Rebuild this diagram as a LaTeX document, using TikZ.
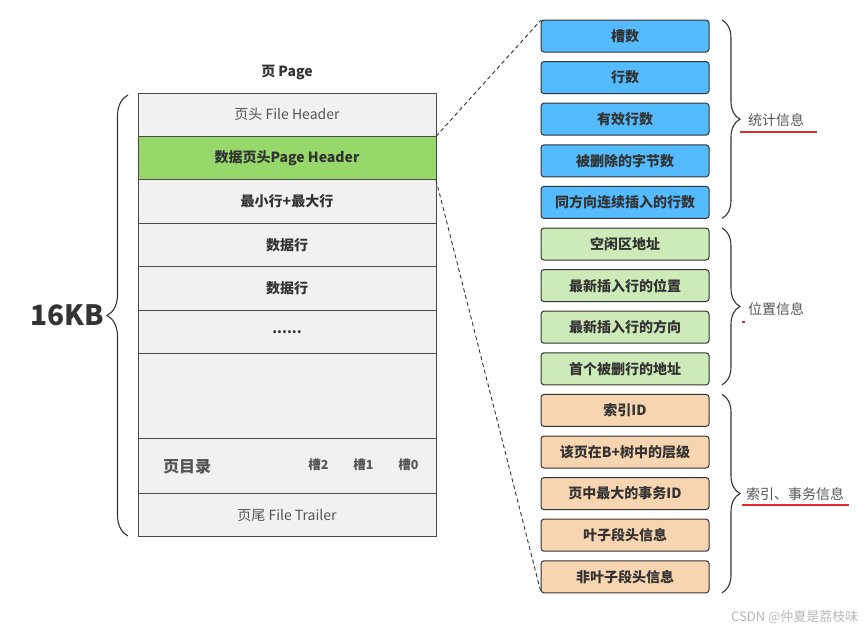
\documentclass[tikz,border=0pt]{standalone}
\usepackage{fontspec}
\setmainfont{Noto Sans CJK SC}
\usepackage{xcolor}
\usetikzlibrary{positioning,decorations.pathreplacing}
\definecolor{RowGray}{HTML}{F1F1F1}
\definecolor{EdgeGray}{HTML}{4A4A4A}
\definecolor{HeadGreen}{HTML}{97D86A}
\definecolor{SkyBlue}{HTML}{55BBFF}
\definecolor{PaleGreen}{HTML}{CDEBB9}
\definecolor{PeachOrange}{HTML}{F8D5B1}
\definecolor{TextDark}{HTML}{333333}
\definecolor{LabelGray}{HTML}{555555}
\definecolor{MarkRed}{HTML}{E8262B}
\newcommand{\fsz}[1]{\fontsize{#1}{#1}\selectfont}
\tikzset{
  pagerow/.style={draw=EdgeGray, fill=RowGray, line width=0.9pt, minimum width=298pt, minimum height=43.4pt, inner sep=0pt, outer sep=0pt, font=\bfseries\fsz{14}, text=TextDark},
  slotbox/.style={rounded corners=3pt, draw=black!7, line width=0.6pt, minimum width=41pt, minimum height=36pt, inner sep=0pt, outer sep=0pt, font=\bfseries\fsz{12.5}, text=LabelGray},
  bluebox/.style={rounded corners=3pt, draw=TextDark, fill=SkyBlue, line width=1pt, minimum width=168pt, minimum height=32pt, inner sep=0pt, outer sep=0pt, font=\bfseries\fsz{14}, text=TextDark},
  greenbox/.style={bluebox, fill=PaleGreen},
  orangebox/.style={bluebox, fill=PeachOrange},
  bracebar/.style={decorate, decoration={brace, amplitude=18pt}, draw=TextDark, line width=1.1pt},
  bracetext/.style={anchor=west, font=\fsz{14}, text=LabelGray, inner sep=0pt},
  zoomline/.style={draw=TextDark, line width=0.9pt, dash pattern=on 4pt off 3pt}
}

\begin{document}
\begin{tikzpicture}[x=1pt, y=-1pt]
\useasboundingbox (0,0) rectangle (867,633);

% page layout
\node[font=\bfseries\fsz{14}, text=TextDark] (title) at (287,72) {页 Page};
\node[pagerow, font=\fsz{14}, text=LabelGray, anchor=north] (fh) at (287,93) {页头 File Header};
\node[pagerow, fill=HeadGreen, below=0pt of fh] (ph) {数据页头Page Header};
\node[pagerow, below=0pt of ph] (minmax) {最小行+最大行};
\node[pagerow, below=0pt of minmax] (row1) {数据行};
\node[pagerow, below=0pt of row1] (row2) {数据行};
\node[pagerow, below=0pt of row2] (dots) {......};
\node[pagerow, minimum height=85pt, below=0pt of dots] (free) {};
\node[pagerow, minimum height=55pt, below=0pt of free] (dir) {};
\node[pagerow, font=\fsz{14}, text=LabelGray, below=0pt of dir] (ft) {页尾 File Trailer};

\node[font=\bfseries\fsz{16}, text=LabelGray] (dirname) at (187,467) {页目录};
\node[slotbox, anchor=north east] (slot0) at (429,447) {槽0};
\node[slotbox, left=4pt of slot0] (slot1) {槽1};
\node[slotbox, left=4pt of slot1] (slot2) {槽2};

\draw[bracebar, decoration={amplitude=21pt}] (128,536) -- (128,95);
\node[font=\bfseries\fsz{28}, text=TextDark] (size) at (67,315) {16KB};

% page header fields
\node[bluebox, anchor=north west] (b1) at (541,20) {槽数};
\node[bluebox, below=9.6pt of b1] (b2) {行数};
\node[bluebox, below=9.6pt of b2] (b3) {有效行数};
\node[bluebox, below=9.6pt of b3] (b4) {被删除的字节数};
\node[bluebox, below=9.6pt of b4] (b5) {同方向连续插入的行数};
\node[greenbox, below=9.6pt of b5] (g1) {空闲区地址};
\node[greenbox, below=9.6pt of g1] (g2) {最新插入行的位置};
\node[greenbox, below=9.6pt of g2] (g3) {最新插入行的方向};
\node[greenbox, below=9.6pt of g3] (g4) {首个被删行的地址};
\node[orangebox, below=9.6pt of g4] (o1) {索引ID};
\node[orangebox, below=9.6pt of o1] (o2) {该页在B+树中的层级};
\node[orangebox, below=9.6pt of o2] (o3) {页中最大的事务ID};
\node[orangebox, below=9.6pt of o3] (o4) {叶子段头信息};
\node[orangebox, below=9.6pt of o4] (o5) {非叶子段头信息};

\draw[zoomline] (fh.south east) -- (b1.north west);
\draw[zoomline] (ph.south east) -- (o5.south west);

% groups
\draw[bracebar] ([xshift=13pt]b1.north east) -- ([xshift=13pt]b5.south east);
\draw[bracebar] ([xshift=13pt]g1.north east) -- ([xshift=13pt]g4.south east);
\draw[bracebar] ([xshift=13pt]o1.north east) -- ([xshift=13pt]o5.south east);
\node[bracetext] (stat) at (748,120) {统计信息};
\node[bracetext] (place) at (748,309) {位置信息};
\node[bracetext] (trx) at (746,494) {索引、事务信息};
\draw[MarkRed, line width=1.2pt] (740,132) -- (817,132);
\draw[MarkRed, line width=1.2pt] (742,322) -- (745,322);
\draw[MarkRed, line width=1.2pt] (742,505) -- (849,505);

\node[anchor=east, font=\fsz{13}, text=black!28] (mark) at (862,617) {CSDN @仲夏是荔枝味};
\end{tikzpicture}
\end{document}
